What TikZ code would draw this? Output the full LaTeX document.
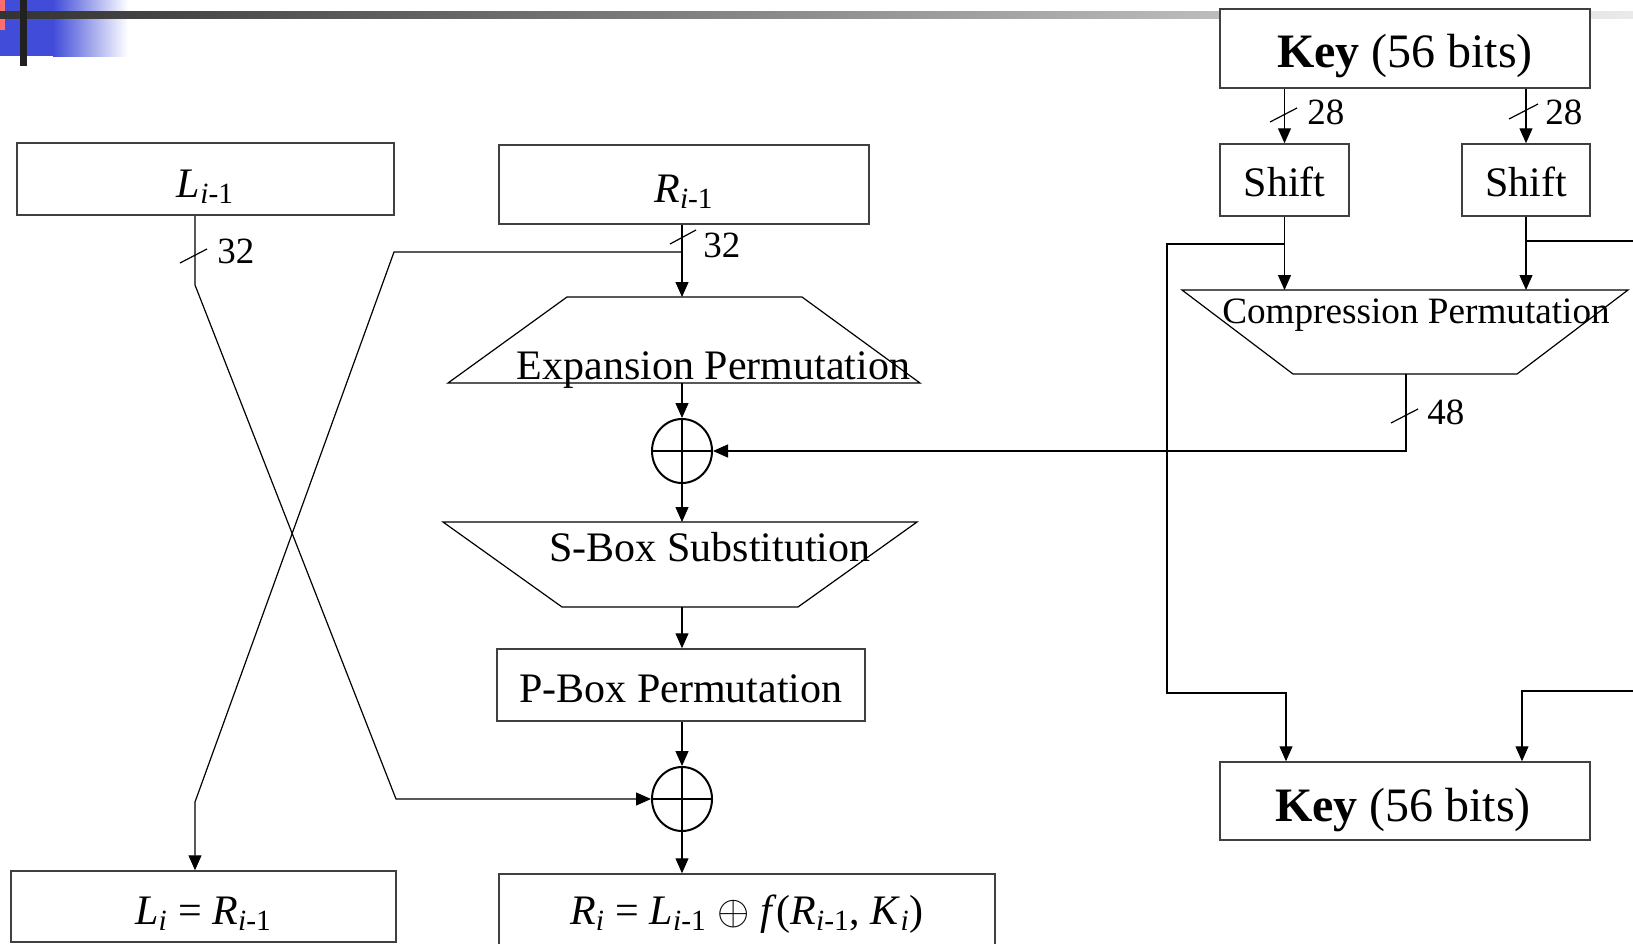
\documentclass[tikz,border=0pt]{standalone}
\usepackage{fontspec}
\setmainfont{Liberation Serif}
\usetikzlibrary{arrows.meta,shapes.geometric,calc}
\definecolor{hdrblue}{RGB}{65,77,216}
\definecolor{hdrred}{RGB}{255,110,110}
\begin{document}
\begin{tikzpicture}[x=0.5pt,y=-0.5pt,
  box/.style={draw=black!75, line width=0.75pt, fill=white, inner sep=0pt},
  conn/.style={line width=0.6pt},
  arr/.style={conn, -{Triangle[length=7.5pt,width=6.5pt]}},
  trap/.style={line width=0.6pt},
  xorn/.style={ellipse, draw, line width=1pt, minimum width=30pt, minimum height=32pt, inner sep=0pt,
    path picture={\draw[line width=1pt] (path picture bounding box.north) -- (path picture bounding box.south)
      (path picture bounding box.west) -- (path picture bounding box.east);}},
  lbl/.style={font=\fontsize{21}{25}\selectfont, anchor=base, inner sep=0pt},
  keyl/.style={font=\fontsize{24}{28}\selectfont, anchor=base, inner sep=0pt},
  cmpl/.style={font=\fontsize{18.6}{22}\selectfont, anchor=base, inner sep=0pt},
  num/.style={font=\fontsize{18.5}{22}\selectfont, anchor=west, inner sep=0pt},
]
\useasboundingbox (0,0) rectangle (1633,943);
% header decoration
\fill[hdrblue] (0,0) rectangle (53,56);
\shade[left color=hdrblue, right color=white] (53,0) rectangle (128,56);
\fill[hdrred] (0,0) rectangle (5,30);
\shade[left color=black!80, middle color=black!40, right color=black!8] (0,11) rectangle (1633,18);
\fill[black!87] (20,0) rectangle (27,66);

% boxes
\node[box, minimum width=188.5pt, minimum height=36pt] (L0) at (205.5,179) {};
\node[lbl] (L0t) at (205.5,197) {\textit{L}\textsubscript{\textit{i}-1}};
\node[box, minimum width=185pt, minimum height=39.5pt] (R0) at (684,184.5) {};
\node[lbl] (R0t) at (684,202) {\textit{R}\textsubscript{\textit{i}-1}};
\node[box, minimum width=185pt, minimum height=39.5pt] (Key1) at (1405,48.5) {};
\node[keyl] (Key1t) at (1405,67) {\textbf{Key} (56 bits)};
\node[box, minimum width=64.5pt, minimum height=36pt] (Shift1) at (1284.5,180) {};
\node[lbl] (Shift1t) at (1284.5,196) {Shift};
\node[box, minimum width=64pt, minimum height=36pt] (Shift2) at (1526,180) {};
\node[lbl] (Shift2t) at (1526,196) {Shift};
\node[box, minimum width=185pt, minimum height=39pt] (Key2) at (1405,801) {};
\node[keyl] (Key2t) at (1403,821) {\textbf{Key} (56 bits)};
\node[box, minimum width=184pt, minimum height=36pt] (PBox) at (681,685) {};
\node[lbl] (PBoxt) at (681,702) {P-Box Permutation};
\node[box, minimum width=192.5pt, minimum height=35.5pt] (Li) at (203.5,906.5) {};
\node[lbl] (Lit) at (203.5,924) {\textit{L}\textsubscript{\textit{i}} = \textit{R}\textsubscript{\textit{i}-1}};
\node[box, minimum width=248pt, minimum height=37pt] (Ri) at (747,911) {};
\node[lbl] (Rit) at (747,924) {\textit{R}\textsubscript{\textit{i}} = \textit{L}\textsubscript{\textit{i}-1} $\oplus$ \textit{f}(\textit{R}\textsubscript{\textit{i}-1}, \textit{K}\textsubscript{\textit{i}})};

% trapezoids
\draw[trap] (567,297) -- (802,297) -- (920,383) -- (448,383) -- cycle;
\node[lbl] (ExpTxt) at (713.5,379) {Expansion Permutation};
\coordinate (expin) at (682,297);
\coordinate (expout) at (684,383);
\draw[trap] (443,522) -- (917,522) -- (798,607) -- (562,607) -- cycle;
\node[lbl] (SBTxt) at (710,561) {S-Box Substitution};
\coordinate (sin) at (682,522);
\coordinate (sout) at (682,607);
\draw[trap] (1182,290) -- (1628,290) -- (1517,374) -- (1293,374) -- cycle;
\node[cmpl] (CPTxt) at (1416,323) {Compression Permutation};
\coordinate (cmpT) at (1406,290);
\coordinate (cout) at (1406,374);

% xor nodes
\node[xorn] (X1) at (682,451) {};
\node[xorn] (X2) at (682,799) {};

% key schedule connectors
\draw[arr] (Key1.south -| Shift1.north) -- (Shift1.north);
\draw[arr] (Key1.south -| Shift2.north) -- (Shift2.north);
\draw[conn] (1270,122) -- (1297,108);
\node[num] (n28a) at (1307,112) {28};
\draw[conn] (1509,119) -- (1538,104);
\node[num] (n28b) at (1545,112) {28};

\draw[arr] (Shift1.south) -- (Shift1.south |- cmpT);
\draw[arr] (Shift2.south) -- (Shift2.south |- cmpT);
\coordinate (br1) at (1284.5,244);
\coordinate (jl) at (1286,693);
\draw[arr] (br1) -- (1167,244) -- (1167,693) -- (jl) -- (jl |- Key2.north);
\coordinate (br2) at (1526,241);
\coordinate (edge1) at (1640,241);
\draw[conn] (br2) -- (edge1);
\coordinate (edge2) at (1640,691);
\coordinate (jr) at (1522,691);
\draw[arr] (edge2) -- (jr) -- (jr |- Key2.north);

\draw[arr] (cout) -- (cout |- X1.east) -- (X1.east);
\draw[conn] (1391,423) -- (1418,409);
\node[num] (n48) at (1427,412) {48};

% main datapath
\draw[arr] (R0.south -| expin) -- (expin);
\draw[conn] (670,244) -- (696,230);
\node[num] (n32b) at (703,245) {32};
\coordinate (br3) at (682,252);
\coordinate (lcol) at (195,802);
\draw[arr] (br3) -- (394,252) -- (lcol) -- (lcol |- Li.north);

\draw[arr] (L0.south -| lcol) -- (195,285) -- (396,799) -- (X2.west);
\draw[conn] (180,263) -- (207,249);
\node[num] (n32a) at (217,251) {32};

\draw[arr] (X1.north |- expout) -- (X1.north);
\draw[arr] (X1.south) -- (X1.south |- sin);
\draw[arr] (sout) -- (sout |- PBox.north);
\draw[arr] (PBox.south -| X2.north) -- (X2.north);
\draw[arr] (X2.south) -- (X2.south |- Ri.north);
\end{tikzpicture}
\end{document}
